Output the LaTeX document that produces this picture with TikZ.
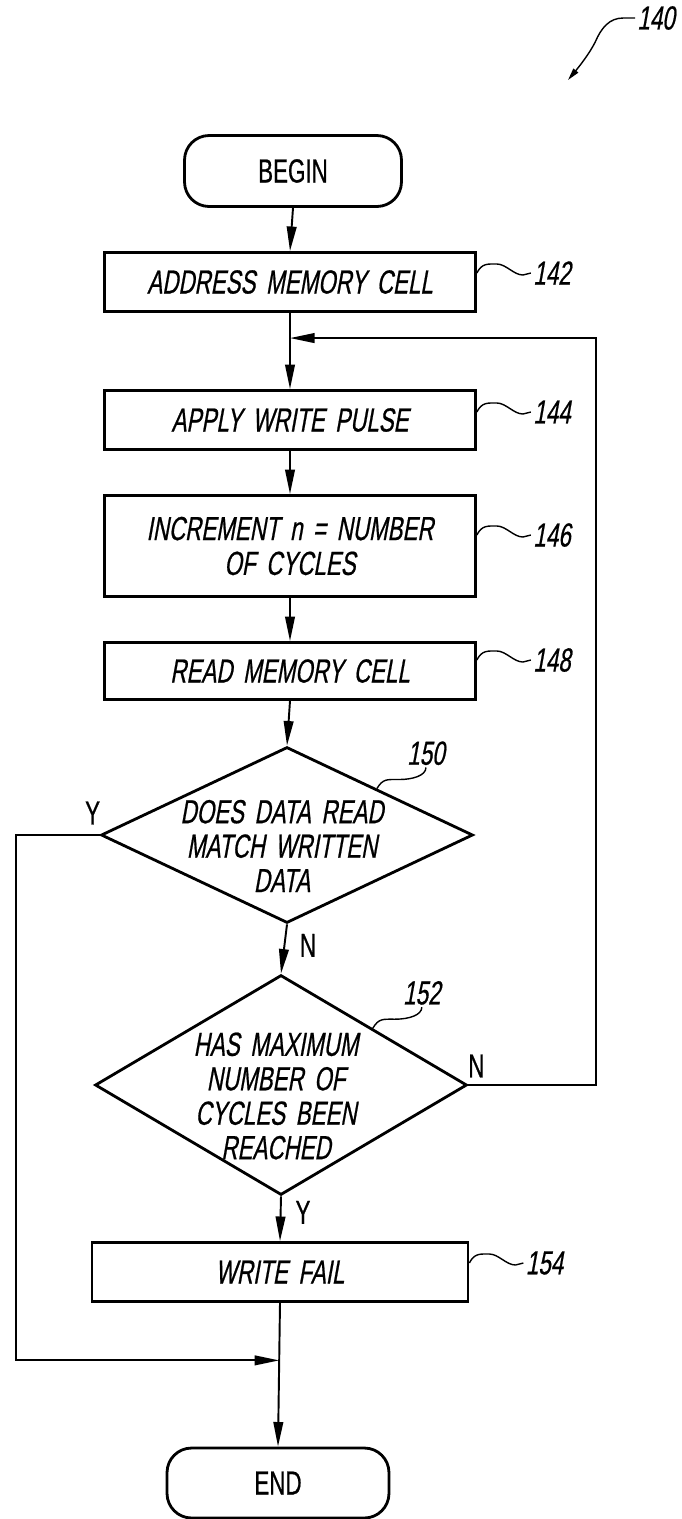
\documentclass[tikz,border=0pt]{standalone}
\usepackage{fontspec}
\setmainfont{Liberation Sans}
\newfontfamily\plainlet{Liberation Sans}[FakeStretch=0.67, WordSpace=1.7, FakeBold=0.6]
\newfontfamily\slantlet{Liberation Sans}[FakeStretch=0.67, FakeSlant=0.18, WordSpace=1.7, FakeBold=0.6]
\usetikzlibrary{calc, arrows.meta, shapes.geometric}
\tikzset{
    termbox/.style={rectangle, draw, line width=1.6pt, rounded corners=14pt, minimum width=4.34cm, minimum height=1.42cm, font={\plainlet\fontsize{19}{20}\selectfont}},
    procbox/.style={rectangle, draw, line width=1.6pt, minimum width=7.42cm, minimum height=1.18cm, align=center, font={\slantlet\fontsize{19}{19.8}\selectfont}},
    decision/.style={diamond, draw, line width=1.6pt, inner sep=0pt, minimum width=7.44cm},
    dtext/.style={align=center, font={\slantlet\fontsize{19}{19.6}\selectfont}},
    conn/.style={line width=1.1pt},
    arr/.style={conn, -{Triangle[length=14pt, width=5.5pt]}},
    lead/.style={line width=0.8pt},
    numlab/.style={font={\slantlet\fontsize{19}{20}\selectfont}, inner sep=1pt},
    yn/.style={font={\plainlet\fontsize{19}{20}\selectfont}, inner sep=0pt},
}

\begin{document}
\begin{tikzpicture}[x=0.02cm, y=-0.02cm]
    \useasboundingbox (0,0) rectangle (682,1519);

    % --- figure number ---
    \node[numlab] (lab140) at (656,18) {140};
    \coordinate (tip140) at (568,80);
    \draw[lead, -{Triangle[length=7pt, width=3.5pt]}] (lab140.west) -- ++(-12,0)
        .. controls +(-14,0) and +(6,-14) .. ++(-28,24)
        .. controls +(-6,12) and +(10,-12) .. (tip140);

    % --- steps ---
    \node[termbox] (begin) at (293,171) {BEGIN};
    \node[procbox] (addr) at (290,282) {ADDRESS MEMORY CELL};
    \node[procbox] (pulse) at (290,420) {APPLY WRITE PULSE};
    \node[procbox, minimum height=2.02cm] (incr) at (290,546) {INCREMENT n = NUMBER\\OF CYCLES};
    \node[procbox, minimum height=1.14cm] (readc) at (290,671) {READ MEMORY CELL};

    % --- decisions ---
    \node[decision, minimum height=3.52cm] (dia1) at (287,835) {};
    \node[dtext] (dia1txt) at ([shift={(-5,11)}]dia1.center) {DOES DATA READ\\MATCH WRITTEN\\DATA};
    \node[decision, minimum height=4.4cm] (dia2) at (281,1085) {};
    \node[dtext] (dia2txt) at ([shift={(-5,11)}]dia2.center) {HAS MAXIMUM\\NUMBER OF\\CYCLES BEEN\\REACHED};

    \node[procbox, minimum width=7.52cm] (fail) at (280,1272) {WRITE FAIL};
    \node[termbox, minimum width=4.44cm, minimum height=1.4cm] (endn) at (278,1483) {END};

    % --- main flow ---
    \draw[arr] (begin.south) -- (addr.north);
    \draw[arr] (addr.south) -- (pulse.north);
    \draw[arr] (pulse.south) -- (incr.north);
    \draw[arr] (incr.south) -- (readc.north);
    \draw[arr] (readc.south) -- (dia1.north);
    \draw[arr] (dia1.south) -- (dia2.north);
    \draw[arr] (dia2.south) -- (fail.north);
    \draw[arr] (fail.south) -- (endn.north);

    % --- branches ---
    \coordinate (jtop) at ($(addr.south)!0.33!(pulse.north)$);
    \coordinate (jbot) at ($(fail.south)!0.4!(endn.north)$);
    \draw[arr] (dia2.east) -- ++(128,0) |- (jtop);
    \draw[arr] (dia1.west) -- ++(-84,0) |- (jbot);

    \node[yn] (y1) at ([shift={(-7,-22)}]dia1.west) {Y};
    \node[yn] (n1) at ([shift={(21,21)}]dia1.south) {N};
    \node[yn] (n2) at ([shift={(8,-19)}]dia2.east) {N};
    \node[yn] (y2) at ([shift={(22,16)}]dia2.south) {Y};

    % --- reference numerals ---
    \foreach \b/\n/\dy in {addr/142/-9, pulse/144/-8, incr/146/-11, readc/148/-11, fail/154/-9}
        \draw[lead] ([shift={(0,\dy)}]\b.east) .. controls +(5,-10) and +(-9,0) .. ++(20,-9)
            .. controls +(9,0) and +(-9,0) .. ++(26,11) -- ++(8,-2)
            node[numlab, anchor=west] (lab\n) {\n};

    \draw[lead] ($(dia1.north)!0.48!(dia1.east)$) .. controls +(6,-10) and +(-12,0) .. ++(22,-9)
        .. controls +(14,0) and +(0,8) .. ++(27,-12) node[numlab, anchor=south] (lab150) {150};
    \draw[lead] ($(dia2.north)!0.49!(dia2.east)$) .. controls +(6,-10) and +(-12,0) .. ++(22,-9)
        .. controls +(14,0) and +(0,8) .. ++(27,-12) node[numlab, anchor=south] (lab152) {152};
\end{tikzpicture}
\end{document}
